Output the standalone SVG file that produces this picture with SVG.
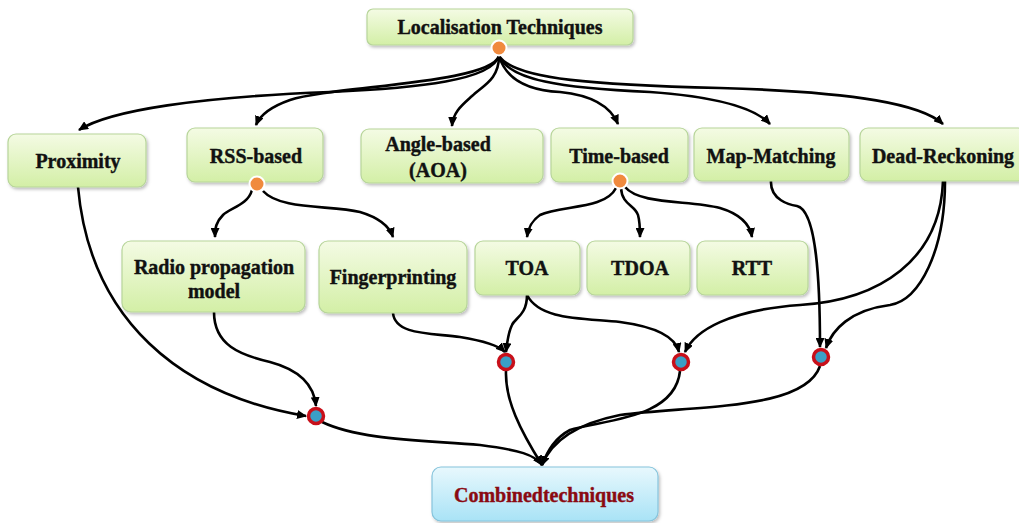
<svg xmlns="http://www.w3.org/2000/svg" width="1019" height="523" viewBox="0 0 1019 523">
  <defs>
    <linearGradient id="gGreen" x1="0" y1="0" x2="0" y2="1">
      <stop offset="0" stop-color="#f4fbe4"/>
      <stop offset="1" stop-color="#d3efa6"/>
    </linearGradient>
    <linearGradient id="gBlue" x1="0" y1="0" x2="0" y2="1">
      <stop offset="0" stop-color="#e8f8fd"/>
      <stop offset="1" stop-color="#a9e3f6"/>
    </linearGradient>
    <filter id="shadow" x="-10%" y="-20%" width="125%" height="150%">
      <feDropShadow dx="1.5" dy="2" stdDeviation="1.5" flood-color="#000" flood-opacity="0.25"/>
    </filter>
    <marker id="arrow" markerWidth="10" markerHeight="9" refX="9" refY="4.5" orient="auto" markerUnits="userSpaceOnUse">
      <path d="M0,0 L10,4.5 L0,9 z" fill="#000"/>
    </marker>
  </defs>
  <style>
    .box { fill: url(#gGreen); stroke: #b7d59a; stroke-width: 1.2; filter: url(#shadow); }
    .boxB { fill: url(#gBlue); stroke: #86c4dc; stroke-width: 1.2; filter: url(#shadow); }
    .lbl { font-family: "Liberation Serif", "Times New Roman", serif; font-weight: bold; font-size: 20px; fill: #111; stroke: #111; stroke-width: 0.4; text-anchor: middle; }
    .red { fill: #8a0a12; stroke: #8a0a12; }
    .conn path { fill: none; stroke: #000; stroke-width: 2.6; marker-end: url(#arrow); }
    .hub { fill: #f08a3e; stroke: #fff; stroke-width: 2; }
    .jRing { fill: #3a9fc6; stroke: #c8101a; stroke-width: 3.5; }
  </style>

  <!-- connectors -->
  <g id="connectors" class="conn">
    <!-- from Localisation Techniques -->
    <path d="M499,56 C492,80 420,88 330,92 C200,97 110,110 79,130"/>
    <path d="M499,56 C490,84 330,86 290,100 C270,107 260,115 256,125"/>
    <path d="M499,56 C499,80 482,86 472,96 C462,105 453,112 452,126"/>
    <path d="M499,56 C505,76 522,90 560,92 C590,95 610,105 618,124"/>
    <path d="M499,56 C510,80 560,88 650,92 C720,97 755,108 770,124"/>
    <path d="M499,56 C515,80 600,85 720,88 C860,92 922,105 943,124"/>
    <!-- from RSS-based -->
    <path d="M252,190 C248,205 230,208 223,215 C216,222 215,228 215,237"/>
    <path d="M263,191 C280,210 330,205 360,212 C380,218 390,228 393,237"/>
    <!-- from Time-based -->
    <path d="M616,188 C605,210 560,205 540,215 C530,222 528,230 527,237"/>
    <path d="M621,188 C622,205 635,205 638,215 C640,222 640,230 640,237"/>
    <path d="M625,187 C640,205 690,200 720,208 C740,214 750,225 752,237"/>
    <!-- into junctions -->
    <path d="M78,187 C90,320 180,395 306,416"/>
    <path d="M214,312 C214,345 240,355 270,362 C300,370 314,385 316,406"/>
    <path d="M393,313 C395,335 430,333 460,337 C485,341 500,347 505,352"/>
    <path d="M527,295 C527,315 515,318 512,325 C508,333 507,343 506,352"/>
    <path d="M527,295 C540,320 580,318 620,322 C650,326 675,335 679,352"/>
    <path d="M943,181 C940,260 880,300 800,305 C730,310 695,330 685,352"/>
    <path d="M771,181 C770,200 790,205 797,206 C815,210 820,270 820,347"/>
    <path d="M945,181 C945,250 920,300 890,305 C850,310 832,330 826,348"/>
    <!-- into Combined techniques -->
    <path d="M322,422 C360,440 420,440 480,445 C520,450 535,455 542,465"/>
    <path d="M506,371 C505,400 520,430 542,465"/>
    <path d="M680,371 C675,420 600,420 570,430 C555,438 548,450 542,465"/>
    <path d="M820,366 C805,410 700,405 620,415 C570,425 550,445 542,465"/>
  </g>

  <g id="n-localisation">
    <rect class="box" x="367" y="9" width="266" height="36" rx="6"/>
    <text class="lbl" x="500" y="34">Localisation Techniques</text>
    <circle class="hub" cx="499" cy="48" r="7.5"/>
  </g>
  <g id="n-proximity">
    <rect class="box" x="8" y="134" width="138" height="53" rx="8"/>
    <text class="lbl" x="78" y="168">Proximity</text>
  </g>
  <g id="n-rss">
    <rect class="box" x="187" y="128" width="136" height="54" rx="8"/>
    <text class="lbl" x="256" y="163">RSS-based</text>
    <circle class="hub" cx="257" cy="184" r="7.5"/>
  </g>
  <g id="n-angle">
    <rect class="box" x="361" y="129" width="182" height="54" rx="8"/>
    <text class="lbl" x="438" y="151">Angle-based</text>
    <text class="lbl" x="438" y="177">(AOA)</text>
  </g>
  <g id="n-time">
    <rect class="box" x="551" y="128" width="137" height="54" rx="8"/>
    <text class="lbl" x="619" y="163">Time-based</text>
    <circle class="hub" cx="620" cy="181" r="7.5"/>
  </g>
  <g id="n-map">
    <rect class="box" x="694" y="128" width="155" height="53" rx="8"/>
    <text class="lbl" x="771" y="163">Map-Matching</text>
  </g>
  <g id="n-dead">
    <rect class="box" x="860" y="128" width="166" height="53" rx="8"/>
    <text class="lbl" x="943" y="163">Dead-Reckoning</text>
  </g>
  <g id="n-radio">
    <rect class="box" x="122" y="241" width="183" height="71" rx="9"/>
    <text class="lbl" x="214" y="274">Radio propagation</text>
    <text class="lbl" x="214" y="298">model</text>
  </g>
  <g id="n-finger">
    <rect class="box" x="319" y="241" width="148" height="72" rx="9"/>
    <text class="lbl" x="393" y="284">Fingerprinting</text>
  </g>
  <g id="n-toa">
    <rect class="box" x="475" y="241" width="105" height="54" rx="8"/>
    <text class="lbl" x="527" y="275">TOA</text>
  </g>
  <g id="n-tdoa">
    <rect class="box" x="587" y="241" width="103" height="54" rx="8"/>
    <text class="lbl" x="640" y="275">TDOA</text>
  </g>
  <g id="n-rtt">
    <rect class="box" x="697" y="241" width="111" height="54" rx="8"/>
    <text class="lbl" x="752" y="275">RTT</text>
  </g>

  <!-- junction points -->
  <g id="j1"><circle class="jRing" cx="316" cy="416" r="7.5"/></g>
  <g id="j2"><circle class="jRing" cx="506" cy="362" r="7.5"/></g>
  <g id="j3"><circle class="jRing" cx="681" cy="362" r="7.5"/></g>
  <g id="j4"><circle class="jRing" cx="821" cy="357" r="7.5"/></g>

  <g id="n-combined">
    <rect class="boxB" x="432" y="467" width="226" height="54" rx="9"/>
    <text class="lbl red" x="544" y="502">Combinedtechniques</text>
  </g>
</svg>
